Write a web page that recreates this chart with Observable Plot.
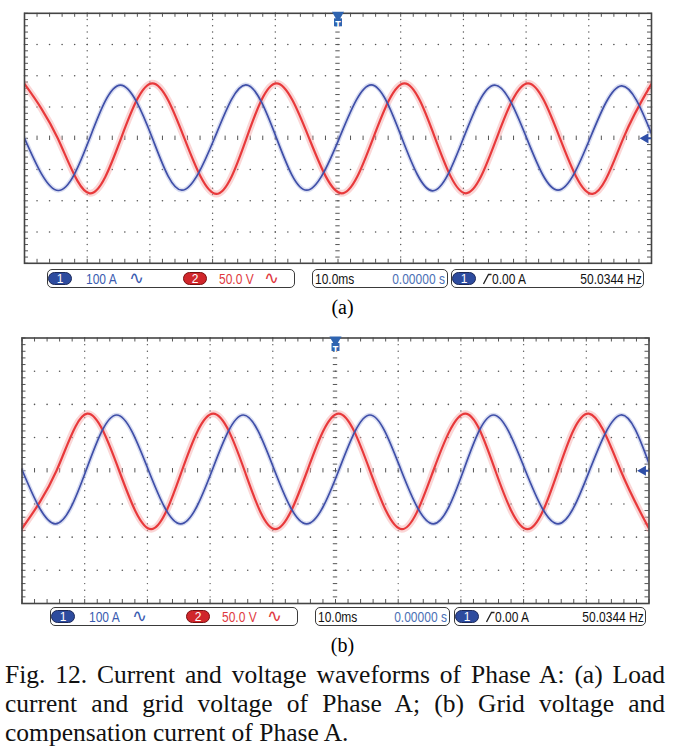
<!DOCTYPE html>
<html>
<head>
<meta charset="utf-8">
<script src="https://cdn.jsdelivr.net/npm/d3@7"></script>
<script src="https://cdn.jsdelivr.net/npm/@observablehq/plot@0.6"></script>
<style>
  body { margin: 0; background: #fff; }
  #root { position: relative; width: 685px; height: 754px; overflow: hidden; background: #fff; }
  .plot { position: absolute; left: 0; }
  .box { position: absolute; height: 19px; box-sizing: border-box; border: 1.3px solid #3a3a3a; border-radius: 5px; background: #fff;
         font-family: "Liberation Sans", Arial, sans-serif; font-size: 15px; }
  .box span { position: absolute; top: 0; line-height: 17px; white-space: nowrap; }
  .box span.n { transform: scaleX(0.8); transform-origin: left center; }
  .box span.nr { transform: scaleX(0.8); transform-origin: right center; }
  .badge { box-sizing: border-box; top: 2px !important; height: 13px; width: 24px; border-radius: 7px; color: #fff; text-align: center;
           line-height: 12px !important; font-size: 12px !important; border: 1px solid #1d2a5a; }
  .wave { font-family: "DejaVu Sans", sans-serif; font-size: 18px !important; line-height: 16px !important; }
  .lbl { position: absolute; width: 685px; text-align: center; font-family: "Liberation Serif", "Times New Roman", serif; font-size: 20px; }
  .cap { position: absolute; left: 5px; width: 660px; font-family: "Liberation Serif", "Times New Roman", serif; font-size: 25.5px; line-height: 29px; color: #111; }
  .cap div { white-space: nowrap; }
  .cap .j { text-align: justify; text-align-last: justify; white-space: normal; }
</style>
</head>
<body>
<div id="root"></div>
<script>
// ---------------- data read from the oscilloscope screens ----------------
// scope settings
const timePerDivMs = 10;      // "10.0ms"
const ch1PerDiv = 100;        // A per division ("100 A")
const ch2PerDiv = 50;         // V per division ("50.0 V")
const xMajorMs = [10, 20, 30, 40, 50, 60, 70, 80, 90];
const yMajorDiv = [-3, -2, -1, 0, 1, 2, 3];

// status bar texts
const ch1Text = "100 A";
const ch2Text = "50.0 V";
const timebaseText = "10.0ms";
const delayText = "0.00000 s";
const triggerText = "0.00 A";
const freqText = "50.0344 Hz";
const panelLabels = ["(a)", "(b)"];
const captionLines = [
  "Fig. 12. Current and voltage waveforms of Phase A: (a) Load",
  "current and grid voltage of Phase A; (b) Grid voltage and",
  "compensation current of Phase A."
];

// (a) load current (ch1, blue) — time in ms, current in A
const aCurrentT = [0, 5.4, 10.4, 15.3, 20.4, 25.1, 30.3, 35.3, 40.2, 45.0, 50.2, 55.3, 60.2, 65.1, 70.0, 75.0, 80.1, 85.1, 90.2, 95.2, 100];
const aCurrentA = [0, -167, 0, 170, 0, -166, 0, 171, 0, -166, 0, 171, 0, -168, 0, 170, 0, -166, 0, 168, 15];
// (a) grid voltage (ch2, red) — time in ms, voltage in V
const aVoltageT = [0, 5.3, 10.4, 15.4, 20.4, 25.5, 30.6, 35.4, 40.2, 45.4, 50.6, 55.6, 60.6, 65.5, 70.4, 75.3, 80.3, 85.4, 90.6, 95.5, 100];
const aVoltageV = [87, 0, -88, 0, 88, 0, -89, 0, 88, 0, -88, 0, 88, 0, -88, 0, 88, 0, -89, 0, 87];
// (b) compensation current (ch1, blue)
const bCurrentT = [0, 5.3, 10.2, 15.1, 20.2, 25.3, 30.3, 35.3, 40.3, 45.4, 50.5, 55.5, 60.5, 65.6, 70.4, 75.2, 80.3, 85.5, 90.5, 95.5, 100];
const bCurrentA = [3, -160, 0, 168, 0, -160, 0, 168, 0, -160, 0, 168, 0, -160, 0, 168, 0, -160, 0, 168, 22];
// (b) grid voltage (ch2, red)
const bVoltageT = [0, 5.5, 10.4, 15.5, 20.6, 25.5, 30.5, 35.5, 40.4, 45.5, 50.5, 55.5, 60.6, 65.6, 70.7, 75.5, 80.6, 85.5, 90.4, 95.5, 100];
const bVoltageV = [-87, 0, 86, 0, -88, 0, 86, 0, -88, 0, 86, 0, -88, 0, 86, 0, -88, 0, 86, 0, -87];

// ---------------- drawing ----------------
const root = document.getElementById("root");
const BLUE = "#3f4fa8", RED = "#e8393b", GRID = "#555";

function series(ts, vs, perDiv) {
  return ts.map((t, i) => ({ t, d: vs[i] / perDiv }));
}

function makePanel(cur, vol, g) {
  const xMax = timePerDivMs * 10;
  const minorX = d3.range(0, xMax + 0.001, timePerDivMs / 5);
  const minorY = d3.range(-4, 4.001, 0.2);
  const vDots = [], hDots = [];
  for (const x of xMajorMs) if (x !== 50) for (const y of minorY) vDots.push({ x, y });
  for (const y of yMajorDiv) if (y !== 0) for (const x of minorX) hDots.push({ x, y });
  const pxX = (g.w - g.ml - g.mr) / xMax, pxY = (g.h - g.mt - g.mb) / 8;
  const tx = 4 / pxX, ty = 4 / pxY; // 4px tick lengths in data units

  return Plot.plot({
    width: g.w, height: g.h,
    marginTop: g.mt, marginBottom: g.mb, marginLeft: g.ml, marginRight: g.mr,
    x: { domain: [0, xMax], axis: null },
    y: { domain: [-4, 4], axis: null },
    style: { background: "transparent", overflow: "visible" },
    marks: [
      Plot.dot(vDots, { x: "x", y: "y", r: 0.7, fill: GRID, stroke: null }),
      Plot.dot(hDots, { x: "x", y: "y", r: 0.8, fill: GRID, stroke: null }),
      // centre cross with minor tick marks
      Plot.ruleX(minorX, { x: d => d, y1: -ty * 0.55, y2: ty * 0.55, stroke: GRID, strokeWidth: 1 }),
      Plot.ruleY(minorY, { y: d => d, x1: 50 - tx * 0.55, x2: 50 + tx * 0.55, stroke: GRID, strokeWidth: 1 }),
      // border ticks
      Plot.ruleX(minorX, { x: d => d, y1: 4, y2: 4 - ty, stroke: GRID, strokeWidth: 1 }),
      Plot.ruleX(minorX, { x: d => d, y1: -4, y2: -4 + ty, stroke: GRID, strokeWidth: 1 }),
      Plot.ruleY(minorY, { y: d => d, x1: 0, x2: tx, stroke: GRID, strokeWidth: 1 }),
      Plot.ruleY(minorY, { y: d => d, x1: xMax, x2: xMax - tx, stroke: GRID, strokeWidth: 1 }),
      // trace halos
      Plot.line(vol, { x: "t", y: "d", curve: "natural", stroke: "#f4a3a3", strokeWidth: 7, strokeOpacity: 0.45, clip: true }),
      Plot.line(cur, { x: "t", y: "d", curve: "natural", stroke: "#aab3e0", strokeWidth: 4.5, strokeOpacity: 0.45, clip: true }),
      // traces
      Plot.line(vol, { x: "t", y: "d", curve: "natural", stroke: RED, strokeWidth: 2.2, clip: true }),
      Plot.line(cur, { x: "t", y: "d", curve: "natural", stroke: BLUE, strokeWidth: 1.7, clip: true }),
      Plot.frame({ stroke: "#444", strokeWidth: 1.6 }),
      // trigger position marker (top centre)
      Plot.dot([{ t: 50 }], { x: "t", frameAnchor: "top", symbol: "triangle", rotate: 180, r: 4.5, fill: "#2f64b0", stroke: null, dy: 2 }),
      Plot.dot([{ t: 50 }], { x: "t", frameAnchor: "top", symbol: "square", r: 4.5, fill: "#2f64b0", stroke: null, dy: 9 }),
      Plot.text([{ t: 50 }], { x: "t", frameAnchor: "top", text: () => "T", fill: "#fff", fontSize: 8, fontWeight: "bold", dy: 9, fontFamily: "DejaVu Sans" }),
      // channel 1 ground marker (right edge)
      Plot.dot([{ v: 0 }], { y: "v", frameAnchor: "right", symbol: "triangle", rotate: -90, r: 3.8, fill: "#2f4fa8", stroke: null, dx: -6 }),
      Plot.ruleY([{ v: 0 }], { y: "v", x1: xMax - tx * 0.9, x2: xMax, stroke: "#2f4fa8", strokeWidth: 2 })
    ]
  });
}

function place(el, top) {
  el.classList.add("plot");
  el.style.top = top + "px";
  root.appendChild(el);
}

function statusBar(top, l1, r1, l2, r2, l3, r3) {
  const mk = (left, right, html) => {
    const b = document.createElement("div");
    b.className = "box";
    b.style.top = top + "px";
    b.style.left = left + "px";
    b.style.width = (right - left) + "px";
    b.innerHTML = html;
    root.appendChild(b);
  };
  mk(l1, r1,
    `<span class="badge" style="left:0;background:#2d4b9e">1</span>` +
    `<span class="n" style="left:38px;color:#3a5bb0">${ch1Text}</span>` +
    `<span class="wave" style="left:81px;color:#3a5bb0">∿</span>` +
    `<span class="badge" style="left:135px;background:#d0262b;border-color:#7a1010">2</span>` +
    `<span class="n" style="left:171px;color:#e0393e">${ch2Text}</span>` +
    `<span class="wave" style="left:216px;color:#e0393e">∿</span>`);
  mk(l2, r2,
    `<span class="n" style="left:2px;color:#111">${timebaseText}</span>` +
    `<span class="nr" style="right:2px;color:#4a6fb5">${delayText}</span>`);
  mk(l3, r3,
    `<span class="badge" style="left:0;background:#2d4b9e">1</span>` +
    `<svg style="position:absolute;left:31px;top:3px" width="9" height="12"><path d="M0.5,11 L5.5,1.5 L8.5,1.5" fill="none" stroke="#222" stroke-width="1.3"/></svg>` +
    `<span class="n" style="left:40px;color:#111">${triggerText}</span>` +
    `<span class="nr" style="right:1px;color:#111">${freqText}</span>`);
}

function label(text, top) {
  const d = document.createElement("div");
  d.className = "lbl";
  d.style.top = top + "px";
  d.textContent = text;
  root.appendChild(d);
}

// panel (a)
place(makePanel(series(aCurrentT, aCurrentA, ch1PerDiv), series(aVoltageT, aVoltageV, ch2PerDiv),
  { w: 685, h: 266, mt: 12.8, mb: 3.2, ml: 24, mr: 34 }), 0);
statusBar(269, 47, 294.5, 311.5, 447.5, 451, 643.5);
label(panelLabels[0], 296);

// panel (b)
place(makePanel(series(bCurrentT, bCurrentA, ch1PerDiv), series(bVoltageT, bVoltageV, ch2PerDiv),
  { w: 685, h: 276, mt: 7.5, mb: 3, ml: 21.5, mr: 36.5 }), 330);
statusBar(607, 50, 297.5, 315, 449.5, 454, 646);
label(panelLabels[1], 634);

// caption
const cap = document.createElement("div");
cap.className = "cap";
cap.style.top = "660px";
cap.innerHTML = captionLines.map((l, i) => `<div class="${i < captionLines.length - 1 ? "j" : ""}">${l}</div>`).join("");
root.appendChild(cap);
</script>
</body>
</html>
